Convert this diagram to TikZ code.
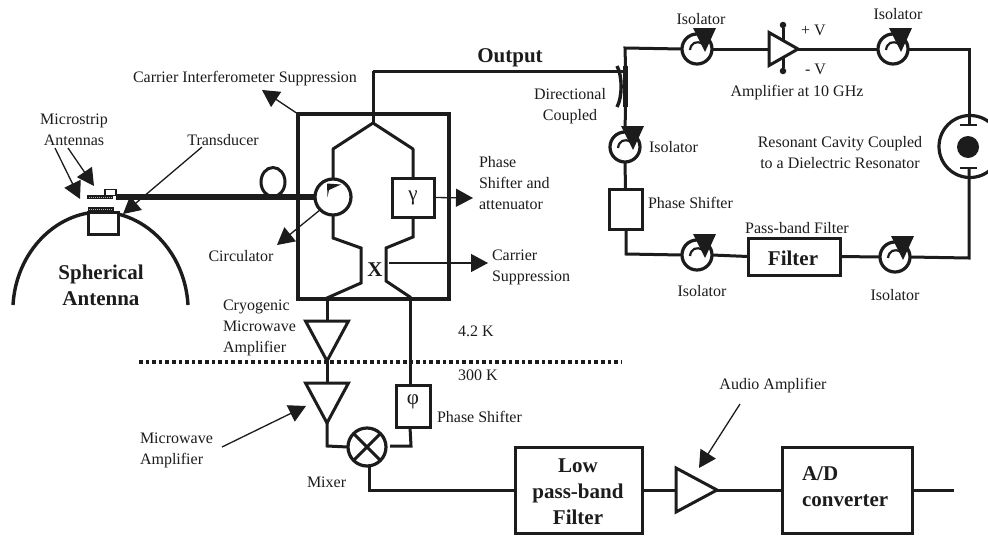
\documentclass[tikz,border=0pt]{standalone}
\usepackage{fontspec}
\setmainfont{Liberation Serif}
\usetikzlibrary{arrows.meta,shapes.geometric,calc}
\definecolor{ink}{HTML}{1C1C1C}
\tikzset{
  x=1pt,y=-1pt,
  every node/.style={inner sep=0pt,outer sep=0pt,text=ink},
  lab/.style={font=\fontsize{16}{21}\selectfont,text height=10.8pt,text depth=0pt},
  multi/.style={font=\fontsize{16}{21}\selectfont},
  boldlab/.style={font=\fontsize{21}{26}\selectfont\bfseries},
  wire/.style={draw=ink,line width=3pt,line join=miter},
  fat wire/.style={draw=ink,line width=5.5pt},
  boxed/.style={draw=ink,line width=3pt,rectangle,fill=white},
  ring/.style={draw=ink,line width=3.2pt,circle,fill=white},
  callout/.style={draw=ink,line width=1.3pt,-{Triangle[length=17pt,width=18pt]}},
  ampdown/.style={draw=ink,line width=3pt,isosceles triangle,isosceles triangle apex angle=56,isosceles triangle stretches,shape border rotate=270,minimum width=43pt,minimum height=40pt,fill=white,anchor=lower side},
  ampright/.style={draw=ink,line width=3pt,isosceles triangle,isosceles triangle stretches,shape border rotate=0,minimum width=44pt,minimum height=41pt,fill=white,anchor=lower side},
  strip/.style={rectangle,fill=ink,minimum width=26pt,minimum height=4.5pt},
}
\newcommand{\isolator}[3]{%
  \node[ring,minimum size=30pt] (#1) at (#2,#3) {};
  \begin{scope}[shift={(#2,#3)}]
    \draw[ink,line width=2.2pt] (-7,1) .. controls (-6,-6) and (-1,-9) .. (6,-5);
    \fill[ink] (-4,-21) -- (19,-21) -- (8,3) -- (3,-7) -- cycle;
  \end{scope}}
\begin{document}
\begin{tikzpicture}
\clip (0,0) rectangle (988,536);
\fill[white] (0,0) rectangle (988,536);

% spherical antenna
\coordinate (sphL) at (13,305);
\coordinate (sphR) at (188,305);
\draw[ink,line width=3.4pt] (sphL) .. controls (16,252) and (56,212) .. (100.5,212) .. controls (145,212) and (185,252) .. (sphR);
\node[boxed,minimum width=30pt,minimum height=22pt] (tbox) at (103.5,223) {};
\node[strip] (stripL) at (100.5,209) {};
\node[strip] (stripU) at (100,197) {};
\draw[white!70!black,line width=0.8pt,dash pattern=on 1pt off 1pt] (89,209) -- (112,209) (89,197) -- (112,197);
\node[draw=ink,line width=1.3pt,fill=white,rectangle,minimum width=11pt,minimum height=6pt] (tcap) at (110.5,192.5) {};
\node[boldlab,align=center] (sph) at (101,285) {Spherical\\Antenna};

% loop
\node[draw=ink,line width=3pt,ellipse,minimum width=24pt,minimum height=29pt] (loop) at (273,182) {};

% main box
\node[draw=ink,line width=3.2pt,rectangle,minimum width=151pt,minimum height=185pt] (main) at (373.5,206.5) {};
\node[ring,minimum size=36pt] (circ) at (333,197) {};
\draw[fat wire] (tcap.south east) ++(0,1.5) coordinate (fatL) -- (circ.west |- fatL);
\fill[ink] (327,183.5) -- (341,184.5) -- (329,190) -- (327.5,197) -- cycle;
\node[boxed,minimum width=42pt,minimum height=39pt] (gam) at (413,197.5) {\fontsize{21}{21}\selectfont γ};

\coordinate (j) at (373,123);
\coordinate (outc) at (373,71);
\draw[wire] (outc) -- (j);
\draw[wire,line join=bevel] (circ.north) -- (333,149) -- (j) -- (413,149) -- (gam.north);
\coordinate (lowL) at (327,299);
\coordinate (lowR) at (410,299);
\draw[wire] (circ.south) -- (333,238) -- (361,248) -- (361,283) -- (327,298) -- (lowL);
\draw[wire] (gam.south) -- (413,237) -- (386,248) -- (386,281) -- (410,297) -- (lowR);
\node[font=\fontsize{21}{21}\selectfont\bfseries,text height=14pt,text depth=0pt] (xlab) at (375,269) {X};

% amplifiers & lower chain
\node[ampdown] (a1) at (327,321) {};
\node[ampdown] (a2) at (327,383) {};
\draw[wire] (lowL) -- (a1.lower side);
\draw[wire] (a1.apex) -- (a2.lower side);
\node[boxed,minimum width=34pt,minimum height=42pt] (phi) at (413,406) {};
\node[font=\fontsize{21}{21}\selectfont] (philab) at (413,402) {φ};
\draw[wire] (lowR) -- (lowR |- phi.north);
\node[ring,minimum size=38pt] (mix) at (367,447) {};
\draw[ink,line width=3pt] (mix.north west) -- (mix.south east) (mix.north east) -- (mix.south west);
\draw[wire] (a2.apex) -- (327,446) -- (mix.west);
\coordinate (mixR) at (390,446);
\draw[wire] (lowR |- phi.south) -- (411,446) -- (mixR);
\coordinate (dotL) at (139,362);
\coordinate (dotR) at (622,362);
\draw[ink,line width=3.6pt,dash pattern=on 3.6pt off 3pt] (dotL) -- (dotR);

\node[boxed,minimum width=127pt,minimum height=86pt] (low) at (578.5,490) {};
\node[boldlab,align=center] (lowlab) at (578,492) {Low\\pass-band\\Filter};
\draw[wire] (369,466) -- (369,490) -- (low.west);
\node[ampright] (aud) at (676,490) {};
\node[boxed,minimum width=130pt,minimum height=86pt] (ad) at (847,490) {};
\node[boldlab,align=left,anchor=west] (adlab) at (802,487) {A/D\\converter};
\coordinate (adout) at (954,490);
\draw[wire] (low.east) -- (aud.lower side);
\draw[wire] (aud.apex) -- (ad.west);
\draw[wire] (ad.east) -- (adout);

% coupler and right loop
\node[rectangle,fill=ink,minimum width=5pt,minimum height=41pt] (coup) at (625.5,86.5) {};
\draw[ink,line width=3.4pt] (617,66) .. controls (622.5,76) and (622.5,97) .. (617,107);
\draw[wire] (outc) -- (coup.west |- outc);
\isolator{iso1}{697}{49}
\isolator{iso2}{625}{147}
\isolator{iso3}{893}{49}
\isolator{iso4}{697}{255}
\isolator{iso5}{895}{257}
\node[ampright,minimum width=33pt,minimum height=29pt] (amp) at (769,49) {};
\node[circle,fill=ink,minimum size=6.5pt] (pinT) at (783,25) {};
\node[circle,fill=ink,minimum size=6.5pt] (pinB) at (783,71) {};
\coordinate (ampTop) at (783,41);
\coordinate (ampBot) at (783,57);
\draw[wire] (pinT) -- (ampTop);
\draw[wire] (pinB) -- (ampBot);
\node[boxed,minimum width=33pt,minimum height=40pt,fill=none] (ps) at (625.5,209) {};
\node[boxed,minimum width=92pt,minimum height=37pt] (flt) at (794,256.5) {};
\node[boldlab] (fltlab) at (793,258) {Filter};
\node[draw=ink,line width=3.2pt,circle,minimum size=62pt] (cav) at (970,146.5) {};
\node[circle,fill=ink,minimum size=22pt] (diel) at (968,147) {};
\coordinate (barT) at (969,125);
\coordinate (barB) at (969,168);
\draw[ink,line width=2.8pt] (960,125) -- (977,125) (960,168) -- (977,168);
\coordinate (corner1) at (625,48);
\draw[wire] (coup.north) -- (corner1) -- (iso1.west);
\draw[wire] (iso1.east) -- (amp.lower side);
\draw[wire] (amp.apex) -- (iso3.west);
\draw[wire] (iso3.east) -- (969,49) -- (barT);
\draw[wire] (barB) -- (969,258) -- (iso5.east);
\draw[wire] (iso5.west) -- (flt.east);
\draw[wire] (flt.west) -- (iso4.east);
\draw[wire] (iso4.west) -- (626,254) -- (626,229);
\draw[wire] (ps.north) -- (iso2.south);
\draw[wire] (coup.south) -- (iso2.north);

% labels
\node[lab] (lOut) at (510,57) {\fontsize{21}{21}\selectfont\bfseries Output};
\node[lab] (lCIS) at (245,77) {Carrier Interferometer Suppression};
\node[multi,align=center] (lMA) at (74,129.5) {Microstrip\\Antennas};
\node[lab] (lTr) at (223,140) {Transducer};
\node[lab] (lCirc) at (241,256) {Circulator};
\node[multi,align=left,anchor=west] (lPSA) at (479,183) {Phase\\Shifter and\\attenuator};
\node[multi,align=left,anchor=west] (lCS) at (492,267.5) {Carrier\\Suppression};
\node[multi,align=left,anchor=west] (lCMA) at (223,327.5) {Cryogenic\\Microwave\\Amplifier};
\node[lab] (l42) at (476,331) {4.2 K};
\node[lab,anchor=west] (l300) at (458,375) {300 K};
\node[lab,anchor=west] (lPS2) at (437,417) {Phase Shifter};
\node[lab,anchor=west] (lMix) at (307,482) {Mixer};
\node[multi,align=left,anchor=west] (lMW) at (140,450.5) {Microwave\\Amplifier};
\node[lab] (lAud) at (773,384) {Audio Amplifier};
\node[multi,align=center] (lDC) at (570,106.5) {Directional\\Coupled};
\node[lab] (lI1) at (701,19) {Isolator};
\node[lab] (lI3) at (898,14) {Isolator};
\node[lab,anchor=west] (lI2) at (649,147) {Isolator};
\node[lab] (lI4) at (702,291) {Isolator};
\node[lab] (lI5) at (895,295) {Isolator};
\node[lab] (lPB) at (797,228) {Pass-band Filter};
\node[lab,anchor=west] (lPS) at (648,203) {Phase Shifter};
\node[lab,anchor=west] (lPV) at (801,30) {+ V};
\node[lab,anchor=west] (lMV) at (805,69) {- V};
\node[lab] (lA10) at (797,91) {Amplifier at 10 GHz};
\node[multi,align=center] (lRes) at (840,152.5) {Resonant Cavity Coupled\\to a Dielectric Resonator};

% callouts
\coordinate (tCIS) at (262,90);
\coordinate (tMA1) at (80,199);
\coordinate (tMA2) at (94,186);
\coordinate (tTr) at (123,214);
\coordinate (tCirc) at (277,245);
\coordinate (tPS) at (473,198);
\coordinate (tCS) at (488,263);
\coordinate (tMW) at (306,406);
\coordinate (tAud) at (699,468);
\draw[callout] (main.north west) -- (tCIS);
\draw[callout] (55,148) -- (tMA1);
\draw[callout] (68,148) -- (tMA2);
\draw[callout] (202,147) -- (tTr);
\draw[callout] (circ.south west) -- (tCirc);
\draw[callout] (gam.east) -- (tPS);
\draw[callout] (389,263) -- (tCS);
\draw[callout] (222,447) -- (tMW);
\draw[callout] (740,404) -- (tAud);
\end{tikzpicture}
\end{document}
